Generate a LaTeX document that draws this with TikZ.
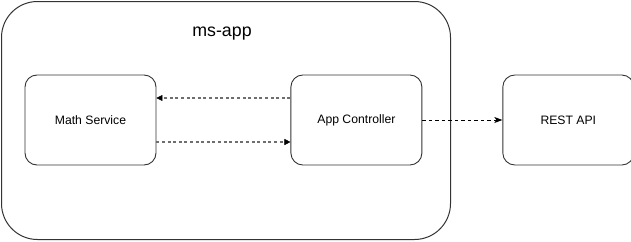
\documentclass[tikz,border=0pt]{standalone}
\usepackage{fontspec}
\setmainfont{Liberation Sans}
\usetikzlibrary{arrows.meta,positioning}
\definecolor{edge}{HTML}{333333}
\definecolor{dots}{HTML}{6E6E6E}

\begin{document}
\begin{tikzpicture}[x=1pt,y=-1pt,font=\fontsize{12.2}{14}\selectfont,
  svc/.style={rectangle,draw=edge,line width=0.9pt,rounded corners=12pt,
    minimum width=131pt,minimum height=90pt,inner sep=0pt},
  call/.style={draw=dots,line width=1.7pt,dash pattern=on 3pt off 2.6pt,
    -{Triangle[length=6pt,width=6pt,color=black,fill=black,line width=0.5pt]}},
  ext/.style={draw=black,line width=0.8pt,dash pattern=on 3.5pt off 3pt,
    -{Stealth[length=8pt,width=6pt,inset=2pt]}}]
\useasboundingbox (0,0) rectangle (631,241);
% container
\node[rectangle,draw=edge,line width=1pt,rounded corners=36pt,
  minimum width=449pt,minimum height=238pt] (app) at (226,120.5) {};
\node[font=\fontsize{17.8}{20}\selectfont] (title) at (222,34) {ms-app};
% services
\node[svc] (math) at (90.5,120) {Math Service};
\node[svc,right=134pt of math] (ctrl) {App Controller};
\node[svc,right=80pt of ctrl] (rest) {REST API};
% calls
\draw[call] ([yshift=22pt]ctrl.west) -- ([yshift=22pt]math.east);
\draw[call] ([yshift=-22pt]math.east) -- ([yshift=-22pt]ctrl.west);
\draw[ext] (ctrl.east) -- (rest.west);
\end{tikzpicture}
\end{document}
